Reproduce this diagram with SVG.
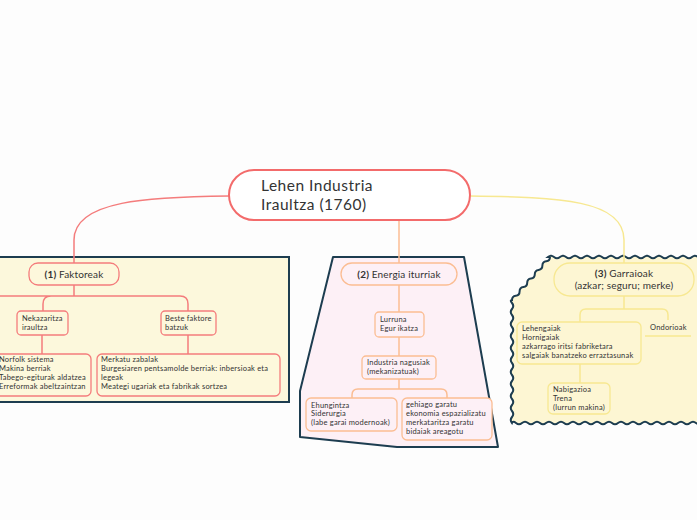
<svg xmlns="http://www.w3.org/2000/svg" width="697" height="520" viewBox="0 0 697 520">
<style>
text{font-family:Lato,"Noto Sans","Liberation Sans",sans-serif;fill:#333;}
.t1{font-size:15.5px;letter-spacing:0.5px;}
.t2{font-size:10px;letter-spacing:0.15px;}
.t3{font-size:7.5px;letter-spacing:0.2px;}
.b{font-weight:bold;}
.red{fill:#fdf8dc;stroke:#f47c7c;stroke-width:1.3;}
.org{fill:#fdf0f6;stroke:#fbbd93;stroke-width:1.3;}
.yel{fill:#fdf6d3;stroke:#f7e891;stroke-width:1.3;}
.lr{fill:none;stroke:#f47c7c;stroke-width:1.5;}
.lo{fill:none;stroke:#fbbd93;stroke-width:1.5;}
.ly{fill:none;stroke:#f7e891;stroke-width:1.5;}
.bd{stroke:#1d3d50;stroke-width:2;}
</style>
<rect width="697" height="520" fill="#fdfdfd"/>
<g id="boundaries">
<rect x="-5" y="257" width="294" height="145" fill="#fcf8dc" class="bd"/>
<polygon points="333,257 464,257 498,447 397,447 300,437 300,391" fill="#fdf0f6" class="bd" stroke-linejoin="round"/>
<path fill="#fdf6d3" class="bd" d="M548,257 q3,-2.5 6,0 t6,0 t6,0 t6,0 t6,0 t6,0 t6,0 t6,0 t6,0 t6,0 t6,0 t6,0 t6,0 t6,0 t6,0 t6,0 t6,0 t6,0 t6,0 t6,0 t6,0 t6,0 t6,0 t6,0 t6,0 t6,0 L702,257 L702,423 q-3,2.5 -6,0 t-6,0 t-6,0 t-6,0 t-6,0 t-6,0 t-6,0 t-6,0 t-6,0 t-6,0 t-6,0 t-6,0 t-6,0 t-6,0 t-6,0 t-6,0 t-6,0 t-6,0 t-6,0 t-6,0 t-6,0 t-6,0 t-6,0 t-6,0 t-6,0 t-6,0 t-6,0 t-6,0 t-6,0 t-6,0 t-6,0 t-4,0 q-2.5,-3 0,-6 t0,-6 t0,-6 t0,-6 t0,-6 t0,-6 t0,-6 t0,-6 t0,-6 t0,-6 t0,-6 t0,-6 t0,-6 t0,-6 t0,-6 t0,-6 t0,-6 t0,-6 t0,-6 t0,-6 t0,-3 q0,-3.8 3.8,-4.3 t3.8,-4.3 t3.8,-4.3 t3.8,-4.3 t3.8,-4.3 t3.8,-4.3 t3.8,-4.3 t3.8,-4.3 t3.8,-4.3 t3.8,-4.3 Z"/>
</g>
<g id="connectors">
<path class="lr" d="M229,196 C150,197 74,200 74,240 V263"/>
<path class="lo" d="M399,220 V263"/>
<path class="ly" d="M470,196 C560,197 624,200 624,240 V263"/>
<path class="lr" d="M74,285 V296 M-5,296 H180 Q188,296 188,304 V311 M43,311 V304 Q43,296 51,296"/>
<path class="lr" d="M42,335 V354 M188,335 V354"/>
<path class="lo" d="M399,285 V312 M399,337 V356 M399,379 V389 M352,398 V395 Q352,389 358,389 H441 Q447,389 447,395 V398"/>
<path class="ly" d="M624,296 V309 M580,322 V315 Q580,309 586,309 H662 Q668,309 668,315 V320 M580,364 V383"/>
<path class="ly" d="M645,336 H691"/>
</g>
<g id="main">
<rect x="229" y="170" width="241" height="50" rx="25" fill="#fff" stroke="#f36b6b" stroke-width="2"/>
<text class="t1" x="261" y="191">Lehen Industria</text>
<text class="t1" x="261" y="210">Iraultza (1760)</text>
</g>
<g id="faktoreak">
<rect class="red" x="29" y="263" width="90" height="22" rx="9"/>
<text class="t2" x="74" y="277.5" text-anchor="middle"><tspan class="b">(1)</tspan> Faktoreak</text>
</g>
<g id="nekazaritza">
<rect class="red" x="17" y="311" width="51" height="24" rx="4"/>
<text class="t3" x="22" y="321">Nekazaritza</text>
<text class="t3" x="22" y="330">iraultza</text>
</g>
<g id="beste">
<rect class="red" x="161" y="311" width="55" height="24" rx="4"/>
<text class="t3" x="165" y="321">Beste faktore</text>
<text class="t3" x="165" y="330">batzuk</text>
</g>
<g id="norfolk">
<rect class="red" x="-10" y="354" width="101" height="42" rx="5"/>
<text class="t3" x="-1" y="362">Norfolk sistema</text>
<text class="t3" x="-1" y="370.5">Makina berriak</text>
<text class="t3" x="-1" y="379.5">Tabego-egiturak aldatzea</text>
<text class="t3" x="-1" y="388.5">Erreformak abeltzaintzan</text>
</g>
<g id="merkatu">
<rect class="red" x="97" y="354" width="183" height="42" rx="5"/>
<text class="t3" x="101" y="362">Merkatu zabalak</text>
<text class="t3" x="101" y="370.5">Burgesiaren pentsamolde berriak: inbersioak eta</text>
<text class="t3" x="101" y="379.5">legeak</text>
<text class="t3" x="101" y="388.5">Meategi ugariak eta fabrikak sortzea</text>
</g>
<g id="energia">
<rect class="org" x="341" y="263" width="116" height="22" rx="11"/>
<text class="t2" x="399" y="277.5" text-anchor="middle"><tspan class="b">(2)</tspan> Energia iturriak</text>
</g>
<g id="lurruna">
<rect class="org" x="375" y="312" width="49" height="25" rx="4"/>
<text class="t3" x="380" y="322">Lurruna</text>
<text class="t3" x="380" y="331">Egur ikatza</text>
</g>
<g id="industria">
<rect class="org" x="362" y="356" width="74" height="23" rx="4"/>
<text class="t3" x="367" y="365">Industria nagusiak</text>
<text class="t3" x="367" y="374">(mekanizatuak)</text>
</g>
<g id="ehungintza">
<rect class="org" x="306" y="398" width="91" height="33" rx="5"/>
<text class="t3" x="311" y="407.5">Ehungintza</text>
<text class="t3" x="311" y="416">Siderurgia</text>
<text class="t3" x="311" y="425">(labe garai modernoak)</text>
</g>
<g id="gehiago">
<rect class="org" x="402" y="398" width="90" height="42" rx="5"/>
<text class="t3" x="406" y="407">gehiago garatu</text>
<text class="t3" x="406" y="416">ekonomia espazializatu</text>
<text class="t3" x="406" y="424.5">merkataritza garatu</text>
<text class="t3" x="406" y="433.5">bidaiak areagotu</text>
</g>
<g id="garraioak">
<rect class="yel" x="554" y="263" width="140" height="33" rx="16"/>
<text class="t2" x="624" y="277" text-anchor="middle"><tspan class="b">(3)</tspan> Garraioak</text>
<text class="t2" x="624" y="289" text-anchor="middle">(azkar; seguru; merke)</text>
</g>
<g id="lehengaiak">
<rect class="yel" x="517" y="322" width="124" height="42" rx="5"/>
<text class="t3" x="522" y="331">Lehengaiak</text>
<text class="t3" x="522" y="340">Hornigaiak</text>
<text class="t3" x="522" y="349">azkarrago iritsi fabriketara</text>
<text class="t3" x="522" y="358">salgaiak banatzeko erraztasunak</text>
</g>
<g id="ondorioak">
<text class="t3" x="650" y="330">Ondorioak</text>
</g>
<g id="nabigazioa">
<rect class="yel" x="548" y="383" width="62" height="31" rx="5"/>
<text class="t3" x="553" y="392">Nabigazioa</text>
<text class="t3" x="553" y="401">Trena</text>
<text class="t3" x="553" y="410">(lurrun makina)</text>
</g>
</svg>
